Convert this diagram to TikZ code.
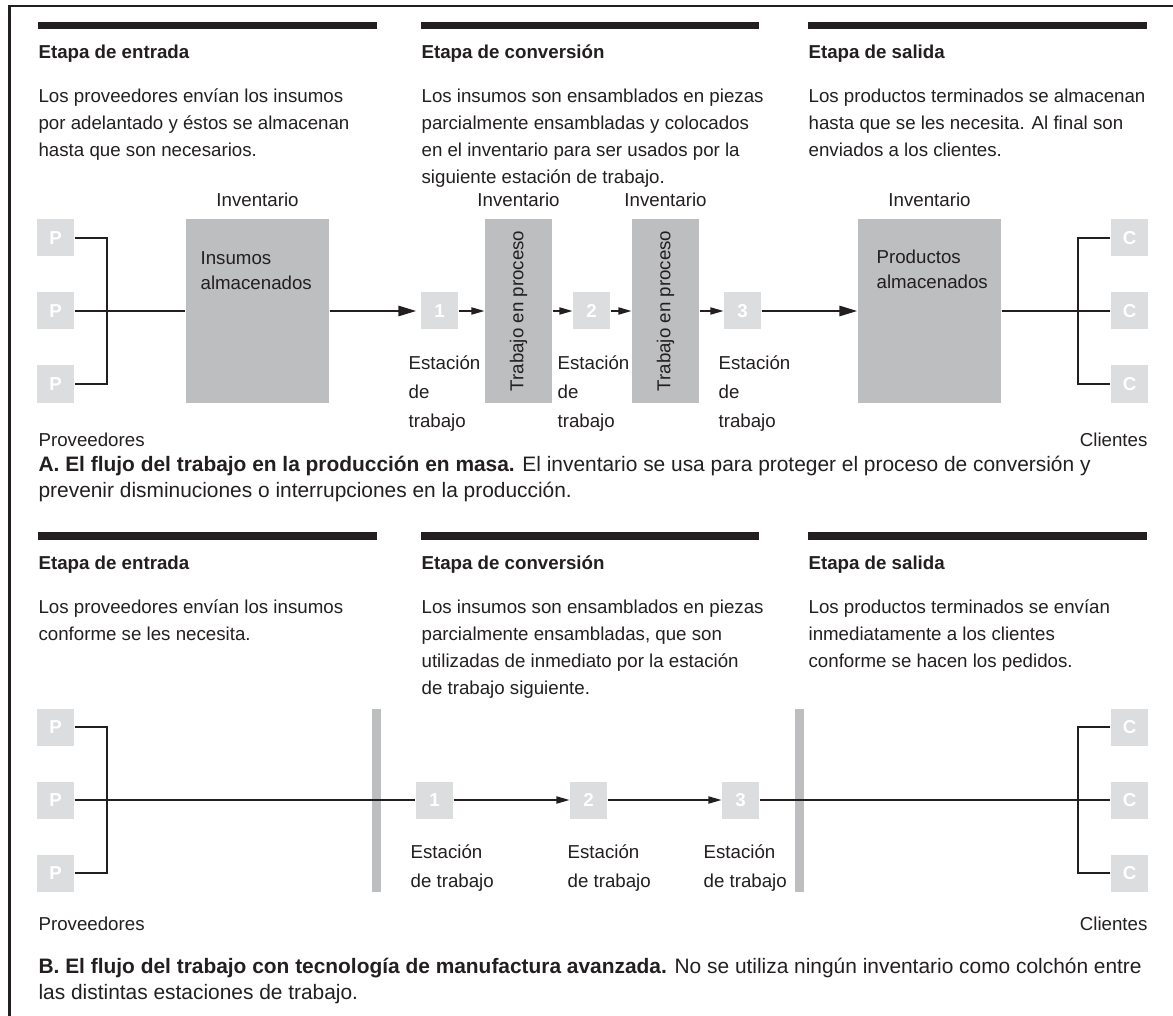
\documentclass[tikz,border=0pt]{standalone}
\usepackage{fontspec}
\setmainfont{Liberation Sans}
\usetikzlibrary{arrows.meta,positioning}

\definecolor{ink}{HTML}{231F20}
\definecolor{boxlight}{HTML}{DCDDDE}
\definecolor{boxmid}{HTML}{BCBEC0}
\newcommand{\stxt}{\fontsize{9.35}{13.5}\selectfont}
\newcommand{\ctxt}{\fontsize{10.45}{13}\selectfont}

\begin{document}
\begin{tikzpicture}[x=0.5pt, y=-0.5pt, line width=0.6pt,
  every node/.style={inner sep=0pt, text=ink, font=\stxt},
  unit/.style={fill=boxlight, minimum size=18.5pt, font=\stxt\bfseries, text=white},
  stock/.style={fill=boxmid, minimum width=71.5pt, minimum height=91.5pt},
  wip/.style={fill=boxmid, minimum width=33.5pt, minimum height=91.5pt},
  link/.style={draw=ink, line width=0.6pt},
  flow/.style={link, -{Triangle[length=6.5pt,width=3.6pt]}},
  bigflow/.style={draw=ink, line width=1.3pt, -{Triangle[length=9pt,width=5pt]}},
  para/.style={anchor=base west, align=left},
  head/.style={anchor=base west, font=\stxt\bfseries}]
  \useasboundingbox (0,0) rectangle (1173,1016);
  \fill[white] (0,0) rectangle (1173,1016);
  \draw[ink, line width=1.25pt] (9.5,1016) -- (9.5,6) -- (1173,6);
  \foreach \bx/\ex in {38/377,421/759,808/1147}
    \foreach \by in {22,532}
      \fill[ink] (\bx,\by) rectangle (\ex,\by+7.5);

  % A: produccion en masa (base = last line)
  \node[head] (hIn) at (38,59) {Etapa de entrada};
  \node[head] (hConv) at (421,59) {Etapa de conversión};
  \node[head] (hOut) at (808,59) {Etapa de salida};
  \node[para] (tIn) at (38,157) {Los proveedores envían los insumos\\por adelantado y éstos se almacenan\\hasta que son necesarios.};
  \node[para] (tConv) at (421,184) {Los insumos son ensamblados en piezas\\parcialmente ensambladas y colocados\\en el inventario para ser usados por la\\siguiente estación de trabajo.};
  \node[para] (tOut) at (808,157) {Los productos terminados se almacenan\\hasta que se les necesita. Al final son\\enviados a los clientes.};

  \foreach \i/\y in {1/238,2/311,3/384} {
    \node[unit] (pa\i) at (55.5,\y) {P};
    \node[unit] (ca\i) at (1129.5,\y) {C};
  }
  \foreach \i/\x in {1/439.5,2/591.5,3/742.5}
    \node[unit] (sa\i) at (\x,311) {\i};
  \node[stock] (invIn) at (257.5,311) {};
  \node[wip] (wip1) at (518.5,311) {};
  \node[wip] (wip2) at (665.5,311) {};
  \node[stock] (invOut) at (929.5,311) {};
  \node[para, font=\fontsize{9.35}{12.5}\selectfont] at (200,290) {Insumos\\almacenados};
  \node[para, font=\fontsize{9.35}{12.5}\selectfont] at (876,289) {Productos\\almacenados};
  \node[rotate=90] at (wip1) {Trabajo en proceso};
  \node[rotate=90] at (wip2) {Trabajo en proceso};
  \foreach \n in {invIn,wip1,wip2,invOut}
    \node[above=6pt of \n] {Inventario};
  \foreach \x in {408,557,718}
    \node[para, font=\fontsize{9.35}{14.25}\selectfont] at (\x,427) {Estación\\de\\trabajo};

  \coordinate (jA) at (107,311);
  \coordinate (jC) at (1078,311);
  \draw[link] (pa1.east) -| (jA) |- (pa3.east);
  \draw[link] (pa2.east) -- (invIn.west);
  \draw[bigflow, shorten >=2pt] (invIn.east) -- (sa1.west);
  \draw[flow] (sa1) -- (wip1);
  \draw[flow] (wip1) -- (sa2);
  \draw[flow] (sa2) -- (wip2);
  \draw[flow] (wip2) -- (sa3);
  \draw[bigflow] (sa3.east) -- (invOut.west);
  \draw[link] (invOut.east) -- (ca2.west);
  \draw[link] (ca1.west) -| (jC) |- (ca3.west);

  \node[anchor=base west] (provA) at (38,446) {Proveedores};
  \node[anchor=base east] (cliA) at (1148,446) {Clientes};
  \node[para, font=\ctxt] (capA) at (38,497) {\textbf{A. El flujo del trabajo en la producción en masa.} El inventario se usa para proteger el proceso de conversión y\\prevenir disminuciones o interrupciones en la producción.};

  % B: manufactura avanzada
  \node[head] (hInB) at (38,569) {Etapa de entrada};
  \node[head] (hConvB) at (421,569) {Etapa de conversión};
  \node[head] (hOutB) at (808,569) {Etapa de salida};
  \node[para] (tInB) at (38,640) {Los proveedores envían los insumos\\conforme se les necesita.};
  \node[para] (tConvB) at (421,694) {Los insumos son ensamblados en piezas\\parcialmente ensambladas, que son\\utilizadas de inmediato por la estación\\de trabajo siguiente.};
  \node[para] (tOutB) at (808,667) {Los productos terminados se envían\\inmediatamente a los clientes\\conforme se hacen los pedidos.};

  \fill[boxmid] (372,709) rectangle (381,892);
  \fill[boxmid] (795,709) rectangle (804,892);
  \foreach \i/\y in {1/727,2/800,3/873} {
    \node[unit] (pb\i) at (55.5,\y) {P};
    \node[unit] (cb\i) at (1129.5,\y) {C};
  }
  \foreach \i/\x in {1/434.5,2/588.5,3/740.5}
    \node[unit] (sb\i) at (\x,800) {\i};
  \foreach \x in {410,567,703}
    \node[para, font=\fontsize{9.35}{14.5}\selectfont] at (\x,887) {Estación\\de trabajo};

  \coordinate (jB) at (107,800);
  \coordinate (jD) at (1078,800);
  \draw[link] (pb1.east) -| (jB) |- (pb3.east);
  \draw[link] (pb2.east) -- (sb1.west);
  \draw[flow] (sb1) -- (sb2);
  \draw[flow] (sb2) -- (sb3);
  \draw[link] (sb3.east) -- (cb2.west);
  \draw[link] (cb1.west) -| (jD) |- (cb3.west);

  \node[anchor=base west] (provB) at (38,930) {Proveedores};
  \node[anchor=base east] (cliB) at (1148,930) {Clientes};
  \node[para, font=\ctxt] (capB) at (38,999) {\textbf{B. El flujo del trabajo con tecnología de manufactura avanzada.} No se utiliza ningún inventario como colchón entre\\las distintas estaciones de trabajo.};
\end{tikzpicture}
\end{document}
